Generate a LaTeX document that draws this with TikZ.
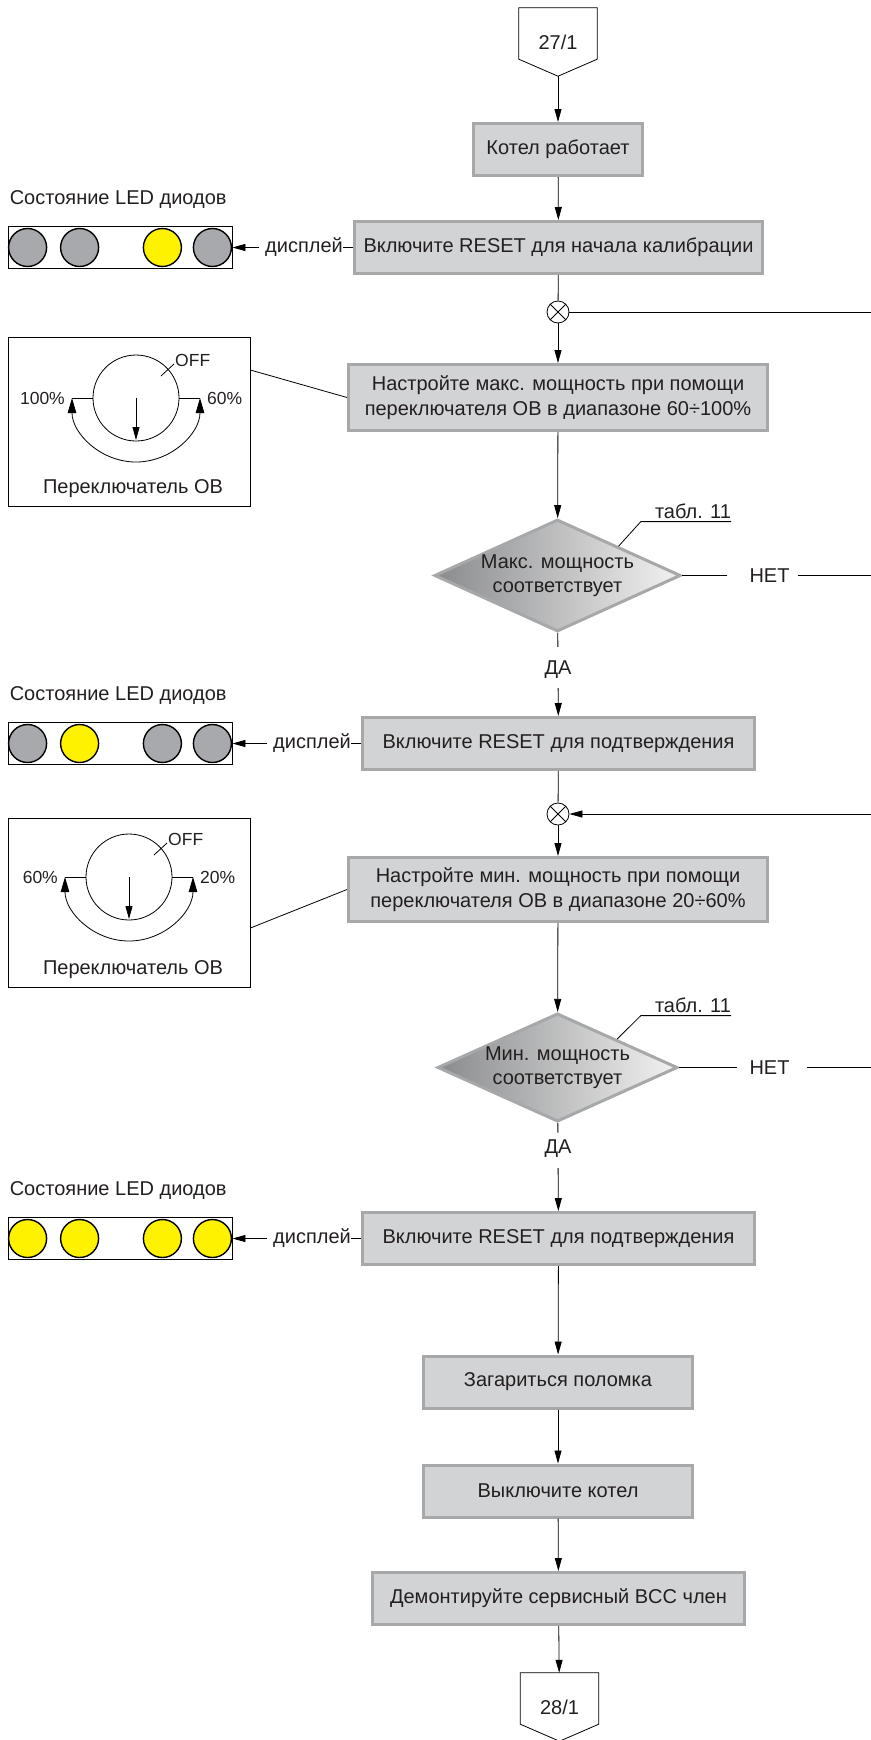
\documentclass[tikz,border=0pt]{standalone}
\usepackage{fontspec}
\setmainfont{Liberation Sans}
\usetikzlibrary{arrows.meta,positioning,calc,shapes.geometric}
\definecolor{ink}{RGB}{35,31,32}
\definecolor{boxfill}{RGB}{210,211,213}
\definecolor{boxline}{RGB}{167,168,170}
\definecolor{decdark}{RGB}{138,139,141}
\definecolor{declight}{RGB}{242,242,242}
\definecolor{ledoff}{RGB}{167,169,172}
\definecolor{ledon}{RGB}{255,242,0}
\tikzset{
  act/.style  ={draw=boxline,fill=boxfill,line width=3pt,align=center,
                inner xsep=4pt,minimum height=52pt,text=ink},
  dec/.style  ={diamond,aspect=2.2,draw=boxline,line width=3pt,inner sep=0pt,
                left color=decdark,right color=declight,align=center,
                minimum width=240pt,minimum height=108pt,text=ink},
  conn/.style ={rectangle,inner sep=0pt,minimum width=78pt,
                minimum height=68pt,text=ink},
  mix/.style  ={circle,draw,line width=0.8pt,minimum size=22pt,inner sep=0pt,
                path picture={\draw[line width=0.8pt]
                  (path picture bounding box.north west) -- (path picture bounding box.south east)
                  (path picture bounding box.north east) -- (path picture bounding box.south west);}},
  panel/.style={draw,line width=0.8pt,minimum width=224pt,minimum height=42pt,inner sep=0pt},
  swbox/.style={draw,line width=0.8pt,minimum width=242pt,minimum height=169pt,inner sep=0pt},
  led/.style  ={circle,draw=black,line width=1.4pt,minimum size=38pt,inner sep=0pt},
  lbl/.style  ={inner sep=0pt,text=ink},
  small/.style={lbl,font=\fontsize{17.5}{21}\selectfont},
  ln/.style   ={line width=0.8pt},
  ar/.style   ={-{Triangle[length=13pt,width=7pt]},line width=0.8pt},
  arr/.style  ={{Triangle[length=15pt,width=8.5pt]}-{Triangle[length=15pt,width=8.5pt]},line width=0.8pt},
}
\newcommand{\ledrow}[5]{%
  \node[led,fill=#2] (#1a) at ($(#1.west)+(20,0)$) {};
  \node[led,fill=#3] (#1b) at ($(#1.west)+(72,0)$) {};
  \node[led,fill=#4] (#1c) at ($(#1.east)+(-70,0)$) {};
  \node[led,fill=#5] (#1d) at ($(#1.east)+(-20,0)$) {};}
\newcommand{\obdial}[3]{%
  \draw[ln] (#1) circle[radius=43];
  \draw[ln] ($(#1)+(-43,0)$) -- ($(#1)+(-64,0)$) ($(#1)+(43,0)$) -- ($(#1)+(64,0)$);
  \draw[arr] ($(#1)+(-64,0)$) arc[start angle=180,end angle=0,radius=64];
  \draw[ar] (#1) -- ++(0,42);
  \draw[ln] ($(#1)+(25,-22)$) -- ($(#1)+(38,-34)$);
  \node[small,anchor=west] (#1off) at ($(#1)+(39,-38)$) {OFF};
  \node[small,anchor=east] (#1l) at ($(#1)+(-71,0)$) {#2};
  \node[small,anchor=west] (#1r) at ($(#1)+(71,0)$) {#3};}
\newcommand{\pentagon}[1]{%
  \draw[ln] (#1.north west) -- (#1.north east) -- ([yshift=17pt]#1.south east)
    -- (#1.south) -- ([yshift=17pt]#1.south west) -- cycle;}

\begin{document}
\begin{tikzpicture}[x=1pt,y=-1pt,font=\fontsize{20}{24.5}\selectfont]
\useasboundingbox (0,0) rectangle (870,1740);

\node[conn] (START) at (558,42) {27/1};
\pentagon{START}
\node[act,minimum width=169pt] (RUN) at (558,149.5) {Котел работает};
\node[act,minimum width=408pt] (CAL) at (558.5,247.5) {Включите RESET для начала калибрации};
\node[lbl,left=10pt of CAL] (DSP1) {дисплей};
\node[panel] (LED1) at (120,247.5) {};
\ledrow{LED1}{ledoff}{ledoff}{ledon}{ledoff}
\node[lbl,above right=17pt and 2pt of LED1.north west] (HD1) {Состояние LED диодов};
\node[mix] (X1) at (558,312) {};
\node[act,minimum width=419pt,minimum height=66pt] (MAX) at (558,397.5) {Настройте макс. мощность при помощи\\переключателя ОВ в диапазоне 60÷100\%};
\node[swbox] (OB1) at (129,421.5) {};
\coordinate (K1) at (136,398);
\obdial{K1}{100\%}{60\%}
\node[lbl,above=9pt of OB1.south,xshift=4pt] (OBL1) {Переключатель ОВ};
\node[dec] (QMAX) at (557.5,575.5) {Макс. мощность\\соответствует};
\node[lbl] (T1) at (693,511) {табл. 11};
\node[lbl] (NO1) at (769.5,575.5) {НЕТ};
\node[lbl] (YES1) at (558,670) {ДА};
\coordinate (R1) at (872,575.5);

\node[act,minimum width=392pt] (OK1) at (558.5,743.5) {Включите RESET для подтверждения};
\node[lbl,left=10pt of OK1] (DSP2) {дисплей};
\node[panel] (LED2) at (120,743.5) {};
\ledrow{LED2}{ledoff}{ledon}{ledoff}{ledoff}
\node[lbl,above right=17pt and 2pt of LED2.north west] (HD2) {Состояние LED диодов};
\node[mix] (X2) at (558,814) {};
\node[act,minimum width=419pt,minimum height=64pt] (MIN) at (558,889.5) {Настройте мин. мощность при помощи\\переключателя ОВ в диапазоне 20÷60\%};
\node[swbox] (OB2) at (129,903) {};
\coordinate (K2) at (129,877);
\obdial{K2}{60\%}{20\%}
\node[lbl,above=9pt of OB2.south,xshift=4pt] (OBL2) {Переключатель ОВ};
\node[dec] (QMIN) at (557.5,1067.5) {Мин. мощность\\соответствует};
\node[lbl] (T2) at (693,1005) {табл. 11};
\node[lbl] (NO2) at (769.5,1067.5) {НЕТ};
\node[lbl] (YES2) at (558,1149) {ДА};
\coordinate (R2) at (872,1067.5);

\node[act,minimum width=392pt] (OK2) at (558.5,1238.5) {Включите RESET для подтверждения};
\node[lbl,left=10pt of OK2] (DSP3) {дисплей};
\node[panel] (LED3) at (120,1238.5) {};
\ledrow{LED3}{ledon}{ledon}{ledon}{ledon}
\node[lbl,above right=17pt and 2pt of LED3.north west] (HD3) {Состояние LED диодов};
\node[act,minimum width=269pt] (ERR) at (558,1382) {Загариться поломка};
\node[act,minimum width=269pt] (OFFB) at (558,1491) {Выключите котел};
\node[act,minimum width=372pt] (BCC) at (558.5,1598.5) {Демонтируйте сервисный BCC член};
\node[conn] (END) at (559.5,1707) {28/1};
\pentagon{END}

\draw[ar] (START) -- (RUN);
\draw[ar] (RUN) -- (CAL);
\draw[ln] (CAL) -- (DSP1);
\draw[ar,shorten <=6pt] (DSP1) -- (LED1);
\draw[ln] (CAL) -- (X1);
\draw[ar] (X1) -- (MAX);
\draw[ln] ([yshift=51.5pt]OB1.east) -- (MAX.west);
\draw[ar] (MAX) -- (QMAX);
\draw[ln] ($(QMAX.north)!0.49!(QMAX.east)$) -- ([xshift=-14pt,yshift=-3pt]T1.south west) -- ([yshift=-3pt]T1.south east);
\draw[ln,shorten >=22pt] (QMAX) -- (NO1);
\draw[ln,shorten <=8pt] (NO1) -- (R1) |- (X1);
\draw[ln,shorten >=14pt] (QMAX) -- (YES1);
\draw[ar,shorten <=9pt] (YES1) -- (OK1);
\draw[ln] (OK1) -- (DSP2);
\draw[ar,shorten <=6pt] (DSP2) -- (LED2);
\draw[ln] (OK1) -- (X2);
\draw[ar] (X2) -- (MIN);
\draw[ln] ([yshift=-25pt]OB2.east) -- (MIN.west);
\draw[ar] (MIN) -- (QMIN);
\draw[ln] ($(QMIN.north)!0.49!(QMIN.east)$) -- ([xshift=-14pt,yshift=-3pt]T2.south west) -- ([yshift=-3pt]T2.south east);
\draw[ln,shorten >=12pt] (QMIN) -- (NO2);
\draw[ar,shorten <=17pt] (NO2) -- (R2) |- (X2);
\draw[ln,shorten >=7pt] (QMIN) -- (YES2);
\draw[ar,shorten <=10pt] (YES2) -- (OK2);
\draw[ln] (OK2) -- (DSP3);
\draw[ar,shorten <=6pt] (DSP3) -- (LED3);
\draw[ar] (OK2) -- (ERR);
\draw[ar] (ERR) -- (OFFB);
\draw[ar] (OFFB) -- (BCC);
\draw[ar] (BCC) -- (END);
\end{tikzpicture}
\end{document}
